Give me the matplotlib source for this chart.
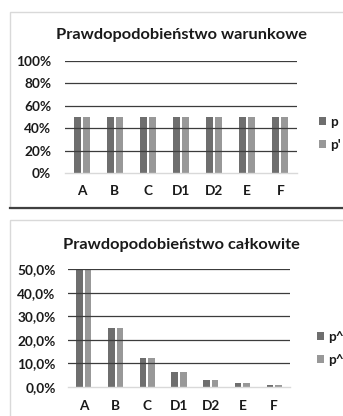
import matplotlib
matplotlib.use("Agg")
import matplotlib.pyplot as plt
import numpy as np
from matplotlib.patches import Patch, Rectangle
from matplotlib.lines import Line2D
from matplotlib.ticker import FuncFormatter

categories = ["A", "B", "C", "D1", "D2", "E", "F"]
p_vals = [0.50, 0.50, 0.50, 0.50, 0.50, 0.50, 0.50]
p_prime_vals = [0.50, 0.50, 0.50, 0.50, 0.50, 0.50, 0.50]
ph_vals = [0.50, 0.25, 0.125, 0.0625, 0.03125, 0.015625, 0.0078125]
ph_prime_vals = [0.50, 0.25, 0.125, 0.0625, 0.03125, 0.015625, 0.0078125]
top_ticks = [0.0, 0.2, 0.4, 0.6, 0.8, 1.0]
bottom_ticks = [0.0, 0.1, 0.2, 0.3, 0.4, 0.5]

plt.rcParams['font.family'] = ['Lato', 'DejaVu Sans']

W, H = 343, 416
fig = plt.figure(figsize=(W / 100, H / 100), dpi=100)
fig.patch.set_facecolor("white")

DARK = "#6e6e6e"
LIGHT = "#989898"
GRID = "#3c3c3c"
BOX = "#d9d9d9"
LBL = 9.8


def fx(x):
    return x / W


def fy(y):
    return 1 - y / H


# frames
fig.add_artist(Rectangle((fx(10), fy(208)), fx(360) - fx(10), fy(12) - fy(208),
                         transform=fig.transFigure, fill=False, edgecolor=BOX, lw=1.0))
fig.add_artist(Line2D([fx(10), fx(343)], [fy(208), fy(208)], transform=fig.transFigure,
                      color="#404040", lw=1.6))
fig.add_artist(Rectangle((fx(10), fy(430)), fx(360) - fx(10), fy(220) - fy(430),
                         transform=fig.transFigure, fill=False, edgecolor=BOX, lw=1.0))


def make_chart(rect, v1, v2, ticks, ymax, fmt, title, title_y, labels, leg_x, leg_y, xpad, ypad, title_size):
    ax = fig.add_axes(rect)
    x = np.arange(len(categories))
    w = 0.21
    off = 0.135
    ax.bar(x - off, v1, w, color=DARK, zorder=2, label=labels[0])
    ax.bar(x + off, v2, w, color=LIGHT, zorder=2, label=labels[1])
    ax.set_xlim(-0.5, len(categories) - 0.5)
    ax.set_ylim(0, ymax)
    ax.set_yticks(ticks)
    ax.yaxis.set_major_formatter(FuncFormatter(fmt))
    ax.set_xticks(x)
    ax.set_xticklabels(categories)
    for t in ticks[1:]:
        ax.axhline(t, color=GRID, lw=0.9, zorder=3)
    for s in ["top", "right", "left"]:
        ax.spines[s].set_visible(False)
    ax.spines["bottom"].set_color(BOX)
    ax.spines["bottom"].set_linewidth(1.0)
    ax.spines["bottom"].set_zorder(4)
    ax.tick_params(axis="both", length=0, labelsize=LBL)
    ax.tick_params(axis="x", pad=xpad)
    ax.tick_params(axis="y", pad=ypad)
    for lab in ax.get_xticklabels() + ax.get_yticklabels():
        lab.set_fontweight("bold")
        lab.set_color("#1a1a1a")
    ax.set_facecolor("none")
    fig.text(fx(181), fy(title_y), title, ha="center", va="center",
             fontsize=title_size, fontweight="bold", color="#1a1a1a")
    handles = [Patch(facecolor=DARK, edgecolor="none"), Patch(facecolor=LIGHT, edgecolor="none")]
    leg = fig.legend(handles, labels, loc="upper left",
                     bbox_to_anchor=(fx(leg_x), fy(leg_y)), frameon=False,
                     borderaxespad=0, handlelength=0.51, handleheight=0.51,
                     handletextpad=0.3, labelspacing=0.79, borderpad=0,
                     prop={"size": LBL, "weight": "bold"})
    for t in leg.get_texts():
        t.set_color("#1a1a1a")
    return ax


def fmt_top(v, pos):
    return f"{int(round(v * 100))}%"


def fmt_bot(v, pos):
    return f"{v * 100:.1f}%".replace(".", ",")


make_chart([fx(65), fy(173), fx(297) - fx(65), fy(61) - fy(173)],
           p_vals, p_prime_vals, top_ticks, 1.0, fmt_top,
           "Prawdopodobieństwo warunkowe", 35, ["p", "p'"], 319, 116, 8.5, 10, 11.8)

make_chart([fx(68), fy(387), fx(290) - fx(68), fy(269) - fy(387)],
           ph_vals, ph_prime_vals, bottom_ticks, 0.5, fmt_bot,
           "Prawdopodobieństwo całkowite", 245, ["p^", "p^'"], 317, 331, 9, 9, 11.8)

fig.savefig("out.png", dpi=100, facecolor="white")
